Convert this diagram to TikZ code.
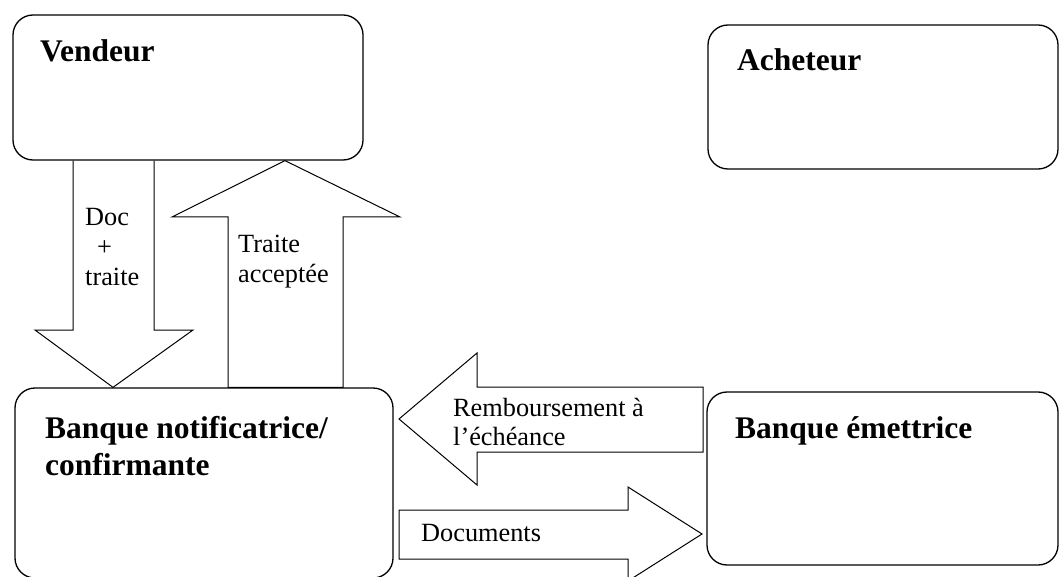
\documentclass[tikz,border=0pt]{standalone}
\usepackage{fontspec}
\setmainfont{Liberation Serif}
\begin{document}
\begin{tikzpicture}[x=1pt,y=-1pt,
  box/.style={draw, line width=1.3pt, rounded corners=20pt, inner sep=0pt},
  ttl/.style={anchor=base west, inner sep=0pt, font=\fontsize{31.5}{37}\selectfont\bfseries},
  lbl/.style={anchor=base west, inner sep=0pt, font=\fontsize{26.3}{30}\selectfont},
  blk/.style={draw, line width=1pt, line join=miter}]
\useasboundingbox (0,0) rectangle (1060,577);
\clip (0,0) rectangle (1060,577);
% boxes
\node[box, minimum width=350pt, minimum height=145pt] (vend) at (188,87.5) {};
\node[box, minimum width=350pt, minimum height=144pt] (ach) at (883,97) {};
\node[box, minimum width=378pt, minimum height=190pt] (bn) at (204,483) {};
\node[box, minimum width=351pt, minimum height=173pt] (be) at (882.5,478.5) {};
% titles
\node[ttl] (vendT) at (40,62) {Vendeur};
\node[ttl] (achT) at (737,71) {Acheteur};
\node[ttl] (bnT) at (45,438) {\vtop{\baselineskip=37pt\hbox{Banque notificatrice/}\hbox{confirmante}}};
\node[ttl] (beT) at (735,438) {Banque émettrice};
% block arrows
\draw[blk] (73,0 |- vend.south) -- (73,330) -- (35,330) -- (113,0 |- bn.north) -- (193,330) -- (154,330) -- (154,0 |- vend.south);
\draw[blk] (228,0 |- bn.north) -- (228,217) -- (172,217) -- (285,0 |- vend.south) -- (400,217) -- (343,217) -- (343,0 |- bn.north) -- cycle;
\draw[blk] (703,387) -- (477,387) -- (477,353) -- (399,419) -- (477,485) -- (477,452) -- (703,452) -- cycle;
\draw[blk] (399,510) -- (628,510) -- (628,487) -- (702,534) -- (628,581) -- (628,559) -- (399,559) -- cycle;
% labels
\node[lbl] (l1) at (85,226) {\vtop{\baselineskip=30pt\hbox{Doc}\hbox{\hspace*{12pt}+}\hbox{traite}}};
\node[lbl] (l2) at (238,253) {\vtop{\baselineskip=30pt\hbox{Traite}\hbox{acceptée}}};
\node[lbl] (l3) at (453,416) {\vtop{\baselineskip=29pt\hbox{Remboursement à}\hbox{l’échéance}}};
\node[lbl] (l4) at (421,541) {Documents};
\end{tikzpicture}
\end{document}
